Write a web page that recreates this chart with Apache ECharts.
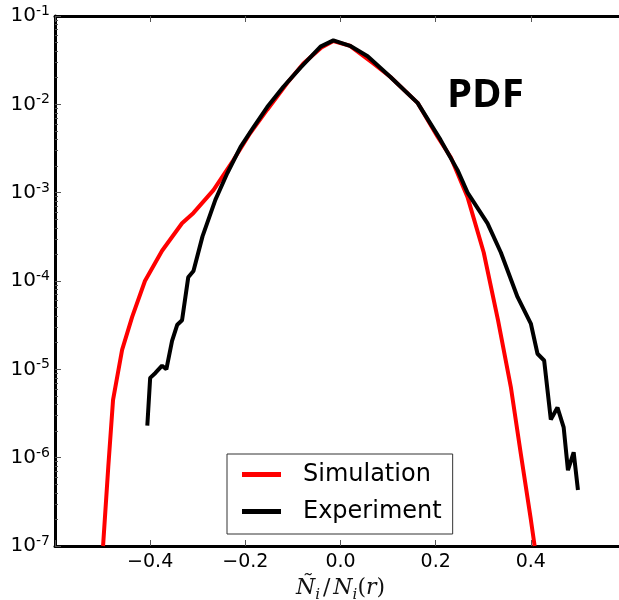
<!DOCTYPE html>
<html>
<head>
<meta charset="utf-8">
<script src="https://cdn.jsdelivr.net/npm/echarts@6/dist/echarts.min.js"></script>
<style>
  html, body { margin: 0; padding: 0; background: #fff; }
  #chart { width: 619px; height: 600px; }
</style>
</head>
<body>
<div id="chart"></div>
<script>
// Simulation (red) — x, pdf
var simX = [-0.499, -0.488, -0.478, -0.459, -0.438, -0.411, -0.375, -0.333, -0.309, -0.267, -0.225, -0.19, -0.154, -0.112, -0.078, -0.04, -0.015, 0.02, 0.069, 0.105, 0.162, 0.204, 0.232, 0.267, 0.301, 0.331, 0.358, 0.379, 0.4, 0.408]
var simY = [1e-7, 7.9e-7, 4.5e-6, 1.66e-5, 3.9e-5, 1.0e-4, 2.2e-4, 4.5e-4, 5.9e-4, 1.07e-3, 2.34e-3, 4.7e-3, 8.7e-3, 0.0174, 0.029, 0.044, 0.052, 0.046, 0.029, 0.0204, 0.0104, 4.3e-3, 2.5e-3, 8.9e-4, 2.1e-4, 3.6e-5, 6.3e-6, 1.1e-6, 2e-7, 1e-7]
// Experiment (black)
var expX = [-0.406, -0.4, -0.389, -0.375, -0.366, -0.354, -0.343, -0.333, -0.32, -0.309, -0.29, -0.263, -0.238, -0.21, -0.183, -0.154, -0.12, -0.084, -0.042, -0.015, 0.02, 0.057, 0.105, 0.162, 0.21, 0.246, 0.267, 0.309, 0.337, 0.372, 0.4, 0.414, 0.428, 0.442, 0.456, 0.469, 0.478, 0.49, 0.499]
var expY = [2.3e-6, 8e-6, 9.1e-6, 1.1e-5, 1.0e-5, 2.1e-5, 3.2e-5, 3.6e-5, 1.1e-4, 1.3e-4, 3.2e-4, 8.3e-4, 1.66e-3, 3.3e-3, 5.5e-3, 9.3e-3, 0.0158, 0.026, 0.045, 0.053, 0.046, 0.035, 0.0204, 0.0104, 3.98e-3, 1.8e-3, 1.0e-3, 4.5e-4, 2.1e-4, 6.6e-5, 3.3e-5, 1.5e-5, 1.26e-5, 2.7e-6, 3.7e-6, 2.2e-6, 7.2e-7, 1.15e-6, 4.3e-7]
var xTicks = [-0.4, -0.2, 0.0, 0.2, 0.4]
var yDecades = [-7, -6, -5, -4, -3, -2]
var yMinorMult = [2, 3, 4, 5, 6, 7, 8, 9]
var legendNames = ['Simulation', 'Experiment']

function pairs (xs, ys) {
  return xs.map(function (x, i) { return [x, ys[i]] })
}

// minor tick positions of the log axis (2..9 x 10^n)
var yMinor = []
yDecades.forEach(function (d) {
  yMinorMult.forEach(function (m) { yMinor.push(m * Math.pow(10, d)) })
})

var chart = echarts.init(document.getElementById('chart'))
var tickStyle = { show: true, inside: true, length: 6, lineStyle: { color: '#555', width: 1 } }
var option = {
  animation: false,
  backgroundColor: '#fff',
  textStyle: { fontFamily: 'DejaVu Sans' },
  grid: { left: 55, top: 16, bottom: 54, right: -7, containLabel: false, outerBoundsMode: 'none' },
  xAxis: [
    {
      type: 'value', min: -0.6, max: 0.6, interval: 0.2, position: 'bottom',
      axisLine: { show: true, onZero: false, lineStyle: { color: '#000', width: 3 } },
      axisTick: tickStyle,
      splitLine: { show: false },
      axisLabel: {
        fontSize: 19, color: '#000', margin: 7,
        formatter: function (v) {
          var r = Math.round(v * 10) / 10
          return xTicks.indexOf(r) >= 0 ? r.toFixed(1).replace('-', '\u2212') : ''
        }
      },
      name: '{it|\u00d1}{sub|i}{sl|/}{it|N}{sub|i}{n|(}{it|r}{n|)}',
      nameLocation: 'middle',
      nameGap: 27,
      nameTextStyle: {
        rich: {
          it: { fontFamily: 'DejaVu Serif', fontStyle: 'italic', fontSize: 22, color: '#111' },
          n: { fontFamily: 'DejaVu Serif', fontSize: 22, color: '#111' },
          sl: { fontFamily: 'DejaVu Serif', fontSize: 22, color: '#111', padding: [0, 3, 0, 3] },
          sub: { fontFamily: 'DejaVu Serif', fontStyle: 'italic', fontSize: 15, color: '#111', verticalAlign: 'bottom', padding: [0, 0, -4, 0] }
        }
      }
    },
    {
      type: 'value', min: -0.6, max: 0.6, interval: 0.2, position: 'top',
      axisLine: { show: true, onZero: false, lineStyle: { color: '#000', width: 3 } },
      axisTick: tickStyle,
      axisLabel: { show: false },
      splitLine: { show: false }
    }
  ],
  yAxis: [
    {
      type: 'log', logBase: 10, min: 1e-7, max: 1e-1,
      axisLine: { show: true, onZero: false, lineStyle: { color: '#000', width: 3 } },
      axisTick: tickStyle,
      splitLine: { show: false },
      axisLabel: {
        margin: 5, color: '#000',
        formatter: function (v) {
          var e = Math.round(Math.log10(v))
          return '{b|10}{s|' + e + '}'
        },
        rich: {
          b: { fontSize: 20, color: '#000', fontFamily: 'DejaVu Sans' },
          s: { fontSize: 14, color: '#000', fontFamily: 'DejaVu Sans', verticalAlign: 'top', padding: [0, 0, 9, 0] }
        }
      }
    },
    {
      // minor ticks only
      type: 'log', logBase: 10, min: 1e-7, max: 1e-1, position: 'left',
      axisLine: { show: false, onZero: false },
      axisTick: { show: true, inside: true, length: 3, customValues: yMinor, lineStyle: { color: '#555', width: 1 } },
      axisLabel: { show: false },
      splitLine: { show: false }
    }
  ],
  legend: {
    data: legendNames,
    orient: 'vertical',
    left: 227, top: 454,
    icon: 'rect',
    itemWidth: 39, itemHeight: 5,
    itemGap: 12,
    padding: [8, 11, 10, 15],
    borderColor: '#333', borderWidth: 1,
    backgroundColor: '#fff',
    textStyle: { fontSize: 24, color: '#000', fontFamily: 'DejaVu Sans', padding: [0, 0, 0, 17], lineHeight: 25 }
  },
  graphic: [
    {
      type: 'text', left: 447, top: 76,
      style: { text: 'PDF', font: 'bold 40px "Open Sans"', fill: '#000' }
    }
  ],
  series: [
    {
      name: legendNames[0], type: 'line', showSymbol: false, xAxisIndex: 0, yAxisIndex: 0,
      lineStyle: { color: '#ff0000', width: 4 }, itemStyle: { color: '#ff0000' },
      data: pairs(simX, simY)
    },
    {
      name: legendNames[1], type: 'line', showSymbol: false, xAxisIndex: 0, yAxisIndex: 0,
      lineStyle: { color: '#000', width: 4 }, itemStyle: { color: '#000' },
      data: pairs(expX, expY)
    }
  ]
}
chart.setOption(option)
</script>
</body>
</html>
